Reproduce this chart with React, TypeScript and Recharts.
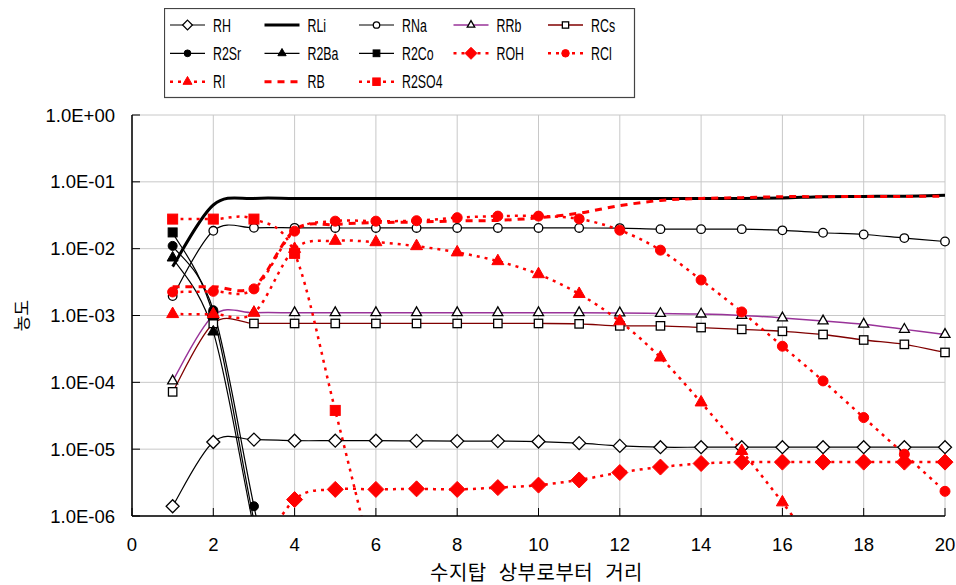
import React from "react";
import { CartesianGrid, Legend, Line, LineChart, XAxis, YAxis } from "recharts";

// distance from top of resin column (x) and concentrations per species
const X_VALUES = [1, 2, 3, 4, 5, 6, 7, 8, 9, 10, 11, 12, 13, 14, 15, 16, 17, 18, 19, 20];

const RH = [1.4e-6, 1.28e-5, 1.39e-5, 1.34e-5, 1.34e-5, 1.34e-5, 1.33e-5, 1.32e-5, 1.32e-5, 1.3e-5, 1.23e-5, 1.12e-5, 1.07e-5, 1.07e-5, 1.07e-5, 1.07e-5, 1.07e-5, 1.07e-5, 1.07e-5, 1.07e-5];
const RLi = [5.4e-3, 0.045, 0.0564, 0.0564, 0.0564, 0.0564, 0.0564, 0.0564, 0.0564, 0.0564, 0.0564, 0.0564, 0.0564, 0.0564, 0.0564, 0.0575, 0.06, 0.0605, 0.061, 0.063];
const RNa = [1.95e-3, 0.0185, 0.0205, 0.0205, 0.0204, 0.0204, 0.0204, 0.0204, 0.0204, 0.0204, 0.0204, 0.0203, 0.0196, 0.0196, 0.0196, 0.0188, 0.0173, 0.0163, 0.0144, 0.0128];
const RRb = [1.05e-4, 1.0e-3, 1.1e-3, 1.1e-3, 1.1e-3, 1.1e-3, 1.1e-3, 1.1e-3, 1.1e-3, 1.1e-3, 1.1e-3, 1.09e-3, 1.07e-3, 1.05e-3, 1.0e-3, 9.2e-4, 8.3e-4, 7.4e-4, 6.2e-4, 5.2e-4];
const RCs = [7.2e-5, 7.6e-4, 7.6e-4, 7.6e-4, 7.6e-4, 7.6e-4, 7.6e-4, 7.6e-4, 7.6e-4, 7.6e-4, 7.5e-4, 7.0e-4, 7.0e-4, 6.6e-4, 6.2e-4, 5.8e-4, 5.2e-4, 4.3e-4, 3.7e-4, 2.8e-4];
const R2Sr = [0.011, 1.2e-3, 1.4e-6, 2e-9, null, null, null, null, null, null, null, null, null, null, null, null, null, null, null, null];
const R2Ba = [7.3e-3, 5.7e-4, 6.5e-7, 1e-9, null, null, null, null, null, null, null, null, null, null, null, null, null, null, null, null];
const R2Co = [0.0175, 1.0e-3, 8.5e-7, 1.5e-9, null, null, null, null, null, null, null, null, null, null, null, null, null, null, null, null];
const ROH = [null, null, 2e-7, 1.76e-6, 2.5e-6, 2.5e-6, 2.55e-6, 2.5e-6, 2.66e-6, 2.9e-6, 3.46e-6, 4.47e-6, 5.4e-6, 6.1e-6, 6.4e-6, 6.4e-6, 6.4e-6, 6.4e-6, 6.4e-6, 6.4e-6];
const RCl = [2.25e-3, 2.3e-3, 2.5e-3, 0.0183, 0.0258, 0.0258, 0.0262, 0.0291, 0.0307, 0.0307, 0.0279, 0.0189, 9.5e-3, 3.4e-3, 1.13e-3, 3.47e-4, 1.05e-4, 2.97e-5, 8.4e-6, 2.34e-6];
const RI = [1.05e-3, 1.05e-3, 1.1e-3, 9.9e-3, 0.0131, 0.0125, 0.0109, 8.8e-3, 6.5e-3, 4.15e-3, 2.1e-3, 8.2e-4, 2.35e-4, 5e-5, 9.4e-6, 1.6e-6, 2.4e-7, null, null, null];
const RB = [2.7e-3, 2.7e-3, 2.7e-3, 0.019, 0.023, 0.0245, 0.025, 0.026, 0.0265, 0.029, 0.034, 0.044, 0.0527, 0.0565, 0.058, 0.06, 0.06, 0.0605, 0.0605, 0.061];
const R2SO4 = [0.0277, 0.0277, 0.0277, 8.5e-3, 3.8e-5, 1.3e-7, null, null, null, null, null, null, null, null, null, null, null, null, null, null];

const X_TICKS = [0, 2, 4, 6, 8, 10, 12, 14, 16, 18, 20];
const Y_TICKS = [1e-6, 1e-5, 1e-4, 1e-3, 1e-2, 1e-1, 1];
const Y_MIN = 1e-6;
const Y_MAX = 1;

const FONT = "'Liberation Sans', Arial, 'Noto Sans CJK KR', sans-serif";
const KR_FONT = "'Noto Sans CJK KR', 'Liberation Sans', sans-serif";

type MarkerShape = "diamond" | "circle" | "triangle" | "square" | "none";

interface SeriesDef {
  key: string;
  values: (number | null)[];
  color: string;
  width: number;
  dash?: string;
  marker: MarkerShape;
  size: number;
  fill: string;
  markerStroke: string;
}

const RED_DOT = "3 5";

const SERIES: SeriesDef[] = [
  { key: "RH", values: RH, color: "#000", width: 1.2, marker: "diamond", size: 6.5, fill: "#fff", markerStroke: "#000" },
  { key: "RLi", values: RLi, color: "#000", width: 3, marker: "none", size: 0, fill: "none", markerStroke: "none" },
  { key: "RNa", values: RNa, color: "#000", width: 1.2, marker: "circle", size: 4.3, fill: "#fff", markerStroke: "#000" },
  { key: "RRb", values: RRb, color: "#993399", width: 1.5, marker: "triangle", size: 5, fill: "#fff", markerStroke: "#000" },
  { key: "RCs", values: RCs, color: "#800000", width: 1.3, marker: "square", size: 4.2, fill: "#fff", markerStroke: "#000" },
  { key: "R2Sr", values: R2Sr, color: "#000", width: 1.2, marker: "circle", size: 4.5, fill: "#000", markerStroke: "#000" },
  { key: "R2Ba", values: R2Ba, color: "#000", width: 1.2, marker: "triangle", size: 5.5, fill: "#000", markerStroke: "#000" },
  { key: "R2Co", values: R2Co, color: "#000", width: 1.2, marker: "square", size: 4.5, fill: "#000", markerStroke: "#000" },
  { key: "ROH", values: ROH, color: "#ff0000", width: 2.5, dash: RED_DOT, marker: "diamond", size: 8, fill: "#ff0000", markerStroke: "#ff0000" },
  { key: "RCl", values: RCl, color: "#ff0000", width: 2.5, dash: RED_DOT, marker: "circle", size: 5, fill: "#ff0000", markerStroke: "#ff0000" },
  { key: "RI", values: RI, color: "#ff0000", width: 2.5, dash: RED_DOT, marker: "triangle", size: 6, fill: "#ff0000", markerStroke: "#ff0000" },
  { key: "RB", values: RB, color: "#ff0000", width: 3, dash: "7 6", marker: "none", size: 0, fill: "none", markerStroke: "none" },
  { key: "R2SO4", values: R2SO4, color: "#ff0000", width: 2.5, dash: RED_DOT, marker: "square", size: 5, fill: "#ff0000", markerStroke: "#ff0000" },
];

const chartData = X_VALUES.map((x, i) => {
  const row: Record<string, number | null> = { x };
  SERIES.forEach((s) => {
    const v = s.values[i] ?? null;
    row[s.key] = v;
    // markers only where the point is inside the plotted range
    row[`${s.key}_m`] = v != null && v >= Y_MIN && v <= Y_MAX ? v : null;
  });
  return row;
});

// Excel-like smoothed line (Catmull-Rom through the points)
const smoothCurve = (context: any) => {
  let pts: number[][] = [];
  return {
    areaStart() {},
    areaEnd() {},
    lineStart() {
      pts = [];
    },
    point(x: number, y: number) {
      pts.push([+x, +y]);
    },
    lineEnd() {
      const n = pts.length;
      if (!n) return;
      context.moveTo(pts[0][0], pts[0][1]);
      if (n === 1) {
        context.lineTo(pts[0][0], pts[0][1]);
        return;
      }
      for (let i = 0; i < n - 1; i++) {
        const p0 = pts[i === 0 ? 0 : i - 1];
        const p1 = pts[i];
        const p2 = pts[i + 1];
        const p3 = pts[i + 2 < n ? i + 2 : n - 1];
        context.bezierCurveTo(
          p1[0] + (p2[0] - p0[0]) / 6,
          p1[1] + (p2[1] - p0[1]) / 6,
          p2[0] - (p3[0] - p1[0]) / 6,
          p2[1] - (p3[1] - p1[1]) / 6,
          p2[0],
          p2[1]
        );
      }
    },
  };
};

function MarkerShapeSvg({ shape, cx, cy, size, fill, stroke }: { shape: MarkerShape; cx: number; cy: number; size: number; fill: string; stroke: string }) {
  const sw = fill === "#fff" ? 1.3 : 1;
  if (shape === "diamond") {
    return <polygon points={`${cx},${cy - size} ${cx + size},${cy} ${cx},${cy + size} ${cx - size},${cy}`} fill={fill} stroke={stroke} strokeWidth={sw} />;
  }
  if (shape === "circle") {
    return <circle cx={cx} cy={cy} r={size} fill={fill} stroke={stroke} strokeWidth={sw} />;
  }
  if (shape === "square") {
    return <rect x={cx - size} y={cy - size} width={size * 2} height={size * 2} fill={fill} stroke={stroke} strokeWidth={sw} />;
  }
  if (shape === "triangle") {
    const h = size * 1.75;
    return (
      <polygon
        points={`${cx},${cy - (h * 2) / 3} ${cx + size},${cy + h / 3} ${cx - size},${cy + h / 3}`}
        fill={fill}
        stroke={stroke}
        strokeWidth={sw}
      />
    );
  }
  return null;
}

const makeDot = (s: SeriesDef) => (props: any) => {
  const { cx, cy, index } = props;
  if (cx == null || cy == null || !Number.isFinite(cx) || !Number.isFinite(cy)) return <g key={`${s.key}-d-${index}`} />;
  return (
    <g key={`${s.key}-d-${index}`}>
      <MarkerShapeSvg shape={s.marker} cx={cx} cy={cy} size={s.size} fill={s.fill} stroke={s.markerStroke} />
    </g>
  );
};

const formatSci = (v: number) => {
  const [m, e] = v.toExponential(1).split("e");
  const n = parseInt(e, 10);
  return `${m}E${n < 0 ? "-" : "+"}${String(Math.abs(n)).padStart(2, "0")}`;
};

const COL_X = [6, 100.5, 195, 289.5, 384];
const ROW_Y = [17, 45.3, 73.7];

function ChartLegend() {
  return (
    <svg width={472} height={91} style={{ display: "block" }}>
      <rect x={0.5} y={0.5} width={470} height={89} fill="#fff" stroke="#444" strokeWidth={1.2} />
      {SERIES.map((s, i) => {
        const x = COL_X[i % 5];
        const y = ROW_Y[Math.floor(i / 5)];
        return (
          <g key={s.key}>
            <line x1={x} x2={x + 35} y1={y} y2={y} stroke={s.color} strokeWidth={s.width} strokeDasharray={s.dash} />
            <MarkerShapeSvg shape={s.marker} cx={x + 17.5} cy={y} size={s.size * 0.75} fill={s.fill} stroke={s.markerStroke} />
            <text transform={`translate(${x + 43},${y + 6.6}) scale(0.67,1)`} fontSize={18.5} fontFamily={FONT} fill="#000">
              {s.key}
            </text>
          </g>
        );
      })}
    </svg>
  );
}

export default function App() {
  return (
    <div style={{ position: "absolute", left: 0, top: 0, width: 956, height: 585, background: "#fff" }}>
      <LineChart width={956} height={585} data={chartData} margin={{ top: 115, right: 11, bottom: 19, left: 0 }}>
        <CartesianGrid yAxisId="y" stroke="#c8c8c8" strokeWidth={1} />
        <XAxis
          dataKey="x"
          type="number"
          domain={[0, 20]}
          ticks={X_TICKS}
          interval={0}
          height={50}
          tickSize={-8}
          tickMargin={30}
          axisLine={{ stroke: "#000", strokeWidth: 1.5 }}
          tickLine={{ stroke: "#000" }}
          tick={{ fill: "#000", fontSize: 18.5, fontFamily: FONT }}
          label={{
            content: (props: any) => {
              const vb = props.viewBox || {};
              return (
                <text
                  x={vb.x + vb.width / 2 - 2}
                  y={vb.y + 64}
                  textAnchor="middle"
                  fontSize={20}
                  fontFamily={KR_FONT}
                  fill="#000"
                  style={{ wordSpacing: 7, letterSpacing: 0.5 }}
                >
                  수지탑 상부로부터 거리
                </text>
              );
            },
          }}
        />
        <YAxis
          yAxisId="y"
          type="number"
          scale="log"
          domain={[Y_MIN, Y_MAX]}
          allowDataOverflow
          ticks={Y_TICKS}
          interval={0}
          width={132}
          tickSize={-8}
          tickMargin={25}
          tickFormatter={formatSci}
          axisLine={{ stroke: "#000", strokeWidth: 1.5 }}
          tickLine={{ stroke: "#000" }}
          tick={{ fill: "#000", fontSize: 18.5, fontFamily: FONT }}
          label={{
            content: (props: any) => {
              const vb = props.viewBox || {};
              const cx = vb.x + 20;
              const cy = vb.y + vb.height / 2;
              return (
                <text x={cx} y={cy} transform={`rotate(-90 ${cx} ${cy})`} textAnchor="middle" dominantBaseline="central" fontSize={17} fontFamily={KR_FONT} fill="#000">
                  농도
                </text>
              );
            },
          }}
        />
        <YAxis yAxisId="m" orientation="right" width={0} type="number" scale="log" domain={[Y_MIN, Y_MAX]} hide />
        <Legend
          verticalAlign="middle"
          align="center"
          layout="horizontal"
          wrapperStyle={{ position: "absolute", left: 164, top: 8, width: 472, height: 91 }}
          content={() => <ChartLegend />}
        />
        {SERIES.flatMap((s) => {
          const items = [
            <Line
              key={`${s.key}-line`}
              yAxisId="y"
              dataKey={s.key}
              name={s.key}
              type={smoothCurve as any}
              stroke={s.color}
              strokeWidth={s.width}
              strokeDasharray={s.dash}
              dot={false}
              activeDot={false}
              isAnimationActive={false}
            />,
          ];
          if (s.marker !== "none") {
            items.push(
              <Line
                key={`${s.key}-marks`}
                yAxisId="m"
                dataKey={`${s.key}_m`}
                name={`${s.key} markers`}
                stroke="none"
                legendType="none"
                dot={makeDot(s)}
                activeDot={false}
                isAnimationActive={false}
              />
            );
          }
          return items;
        })}
      </LineChart>
    </div>
  );
}
